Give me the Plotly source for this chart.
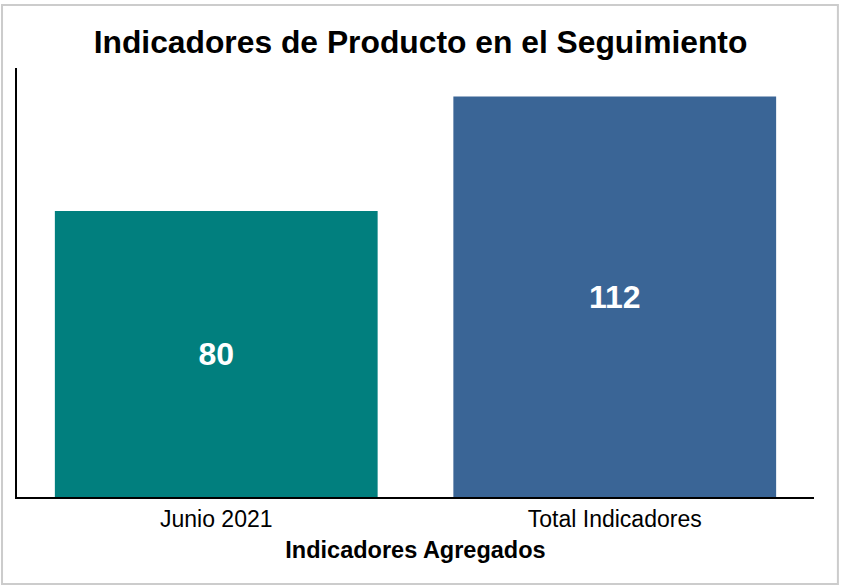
import plotly.graph_objects as go

# Data
categories = ['Junio 2021', 'Total Indicadores']
values = [80, 112]
bar_colors = ['#017f7e', '#3a6596']

fig = go.Figure()

fig.add_trace(
    go.Bar(
        x=categories,
        y=values,
        marker=dict(color=bar_colors, line=dict(width=0)),
        text=[str(v) for v in values],
        textposition='inside',
        insidetextanchor='middle',
        textfont=dict(family='Arial, Liberation Sans', size=32, color='white', weight='bold'),
        hoverinfo='x+y',
    )
)

fig.update_layout(
    width=841,
    height=587,
    margin=dict(l=17, r=27, t=68, b=90),
    paper_bgcolor='white',
    plot_bgcolor='white',
    font=dict(family='Arial, Liberation Sans', color='black'),
    bargap=0.19,
    showlegend=False,
    title=dict(
        text='<b>Indicadores de Producto en el Seguimiento</b>',
        x=0.5,
        xanchor='center',
        y=0.928,
        yanchor='middle',
        font=dict(size=31.8, color='black'),
    ),
    xaxis=dict(
        title=dict(text='<b>Indicadores Agregados</b>', font=dict(size=23.5), standoff=11),
        tickfont=dict(size=23),
        showline=True,
        linecolor='black',
        linewidth=2,
        ticks='',
        showgrid=False,
    ),
    yaxis=dict(
        range=[0, 120],
        showline=True,
        linecolor='black',
        linewidth=1.5,
        showticklabels=False,
        ticks='',
        showgrid=False,
        zeroline=False,
    ),
)

# outer frame around the whole chart
fig.add_shape(
    type='rect',
    xref='paper', yref='paper',
    x0=-0.0188, x1=1.030, y0=-0.2028, y1=1.1469,
    line=dict(color='#cccccc', width=2),
    fillcolor='rgba(0,0,0,0)',
    layer='below',
)

# drop the default page margin so the chart sits at the window origin
fig.write_html(
    'out.html',
    config={'displayModeBar': False},
    post_script="document.body.style.margin='0';",
)
